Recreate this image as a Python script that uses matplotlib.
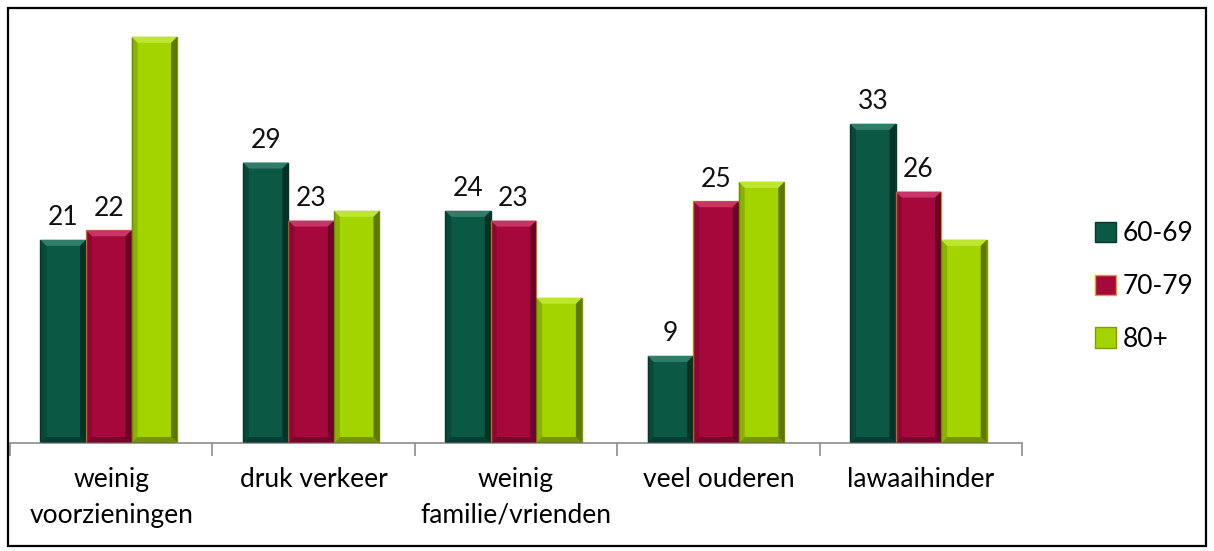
import matplotlib
matplotlib.use("Agg")
import matplotlib.pyplot as plt
import numpy as np
from matplotlib.patches import Polygon, Rectangle

plt.rcParams["font.family"] = ["Lato", "DejaVu Sans"]

categories = ["weinig\nvoorzieningen", "druk verkeer", "weinig\nfamilie/vrienden",
              "veel ouderen", "lawaaihinder"]
series = ["60-69", "70-79", "80+"]
values_6069 = [21, 29, 24, 9, 33]
values_7079 = [22, 23, 23, 25, 26]
values_80 = [42, 24, 15, 27, 21]
show_labels = [True, True, False]

face_colors = ["#0B5845", "#A6083C", "#A4D400"]
edge_colors = ["#06382B", "#E0A21A", "#7E9E00"]
light_colors = ["#2F7C68", "#C83468", "#BDE630"]
dark_colors = ["#04281F", "#5A0220", "#4E6200"]

fig = plt.figure(figsize=(12.14, 5.51), dpi=100)
ax = fig.add_axes([10 / 1214, 1 - 443 / 551, 1012 / 1214, 435 / 551])

n = len(categories)
x = np.arange(n)
bar_w = 0.225
shift = -0.012
all_vals = [values_6069, values_7079, values_80]
ax.set_xlim(-0.5, n - 0.5)
ax.set_ylim(0, 435 / 9.67)

# bevel sizes in data units (about 6 px)
bx = 6 / 202.4
by = 6 / 9.67

for i, vals in enumerate(all_vals):
    offs = (i - 1) * bar_w + shift
    bars = ax.bar(x + offs, vals, bar_w, color=face_colors[i],
                  edgecolor=edge_colors[i], linewidth=1.0, zorder=2,
                  label=series[i])
    for b in bars:
        x0, y0 = b.get_x(), b.get_y()
        w, h = b.get_width(), b.get_height()
        x1, y1 = x0 + w, y0 + h
        # top bevel (light)
        ax.add_patch(Polygon([[x0, y1], [x1, y1], [x1 - bx, y1 - by], [x0 + bx, y1 - by]],
                             closed=True, facecolor=light_colors[i], edgecolor="none", zorder=3))
        # right bevel (dark)
        ax.add_patch(Polygon([[x1, y1], [x1, y0], [x1 - bx, y0 + by], [x1 - bx, y1 - by]],
                             closed=True, facecolor=dark_colors[i], edgecolor="none",
                             alpha=0.8, zorder=3))
        # bottom bevel (dark)
        ax.add_patch(Polygon([[x0, y0], [x1, y0], [x1 - bx, y0 + by], [x0 + bx, y0 + by]],
                             closed=True, facecolor=dark_colors[i], edgecolor="none",
                             alpha=0.55, zorder=3))
        # left bevel
        ax.add_patch(Polygon([[x0, y1], [x0, y0], [x0 + bx, y0 + by], [x0 + bx, y1 - by]],
                             closed=True, facecolor=dark_colors[i], edgecolor="none",
                             alpha=0.3, zorder=3))
        if show_labels[i]:
            ax.annotate(f"{int(h)}", (x0 + w / 2, y1), xytext=(0, 7),
                        textcoords="offset points", ha="center", va="bottom",
                        fontsize=19, color="#111111")

for s in ["top", "right", "left"]:
    ax.spines[s].set_visible(False)
ax.spines["bottom"].set_color("#8C8C8C")
ax.spines["bottom"].set_linewidth(1.2)
ax.set_yticks([])

ax.set_xticks(np.arange(-0.5, n, 1.0))
ax.set_xticklabels([])
ax.set_xticks(x, minor=True)
ax.set_xticklabels(categories, minor=True, fontsize=19, linespacing=1.55)
ax.tick_params(axis="x", which="major", direction="out", length=9, width=1.2,
               color="#8C8C8C")
ax.tick_params(axis="x", which="minor", length=0, pad=17)

leg = ax.legend(loc="center left", bbox_to_anchor=(1.062, 0.36),
                bbox_transform=ax.transAxes, frameon=False, fontsize=19,
                handlelength=0.8, handleheight=0.8, handletextpad=0.25,
                labelspacing=1.05, borderaxespad=0)

fig.patches.append(Rectangle((8 / 1214, 5 / 551), 1198 / 1214, 538 / 551,
                             transform=fig.transFigure, fill=False,
                             edgecolor="black", linewidth=1.6))

fig.savefig("out.png", dpi=100)
